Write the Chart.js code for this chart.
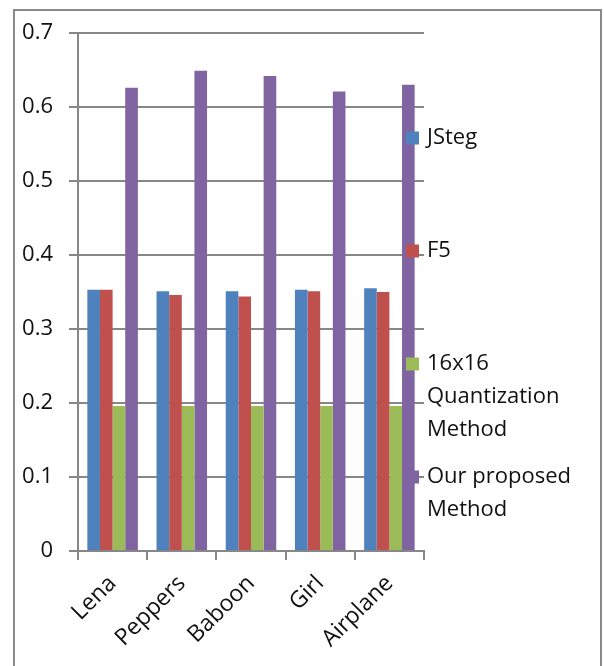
<!DOCTYPE html>
<html>
<head>
<meta charset="utf-8">
<script src="https://cdn.jsdelivr.net/npm/chart.js@4.4.1/dist/chart.umd.min.js"></script>
<style>
  html, body { margin: 0; padding: 0; background: #ffffff; overflow: hidden; }
  #wrap { position: relative; width: 604px; height: 666px; }
</style>
</head>
<body>
<div id="wrap"><canvas id="chart"></canvas></div>
<script>
// Test images and the score of each embedding method
const categories = ['Lena', 'Peppers', 'Baboon', 'Girl', 'Airplane'];
const seriesNames = ['JSteg', 'F5', '16x16 Quantization Method', 'Our proposed Method'];
const jstegValues = [0.353, 0.351, 0.351, 0.353, 0.355];
const f5Values = [0.353, 0.346, 0.344, 0.351, 0.350];
const quantValues = [0.196, 0.196, 0.196, 0.196, 0.196];
const proposedValues = [0.626, 0.649, 0.642, 0.621, 0.630];
const yTicks = [0, 0.1, 0.2, 0.3, 0.4, 0.5, 0.6, 0.7];

const colors = ['#4F81BD', '#C0504D', '#9BBB59', '#8064A2'];
const FONT = '"Open Sans", "DejaVu Sans", sans-serif';
const gridColor = '#878787';

// Outer frame around the whole figure
const framePlugin = {
  id: 'frame',
  afterDraw(chart) {
    const ctx = chart.ctx;
    ctx.save();
    ctx.strokeStyle = '#8a8a8a';
    ctx.lineWidth = 2;
    ctx.strokeRect(14, 10, 587, 680);
    ctx.restore();
  }
};

// Legend at the right, entries spread down the height of the plot
const sideLegend = {
  id: 'sideLegend',
  afterDraw(chart, args, opts) {
    const ctx = chart.ctx;
    ctx.save();
    ctx.font = opts.fontSize + 'px ' + FONT;
    ctx.textBaseline = 'middle';
    ctx.textAlign = 'left';
    chart.data.datasets.forEach((ds, i) => {
      const cy = opts.firstY + i * opts.step;
      ctx.fillStyle = ds.backgroundColor;
      ctx.fillRect(opts.boxX, cy - opts.box / 2, opts.box, opts.box);
      // simple word wrap into the legend column
      const words = ds.label.split(' ');
      const lines = [];
      let cur = '';
      words.forEach(w => {
        const t = cur ? cur + ' ' + w : w;
        if (cur && ctx.measureText(t).width > opts.maxWidth) {
          lines.push(cur);
          cur = w;
        } else {
          cur = t;
        }
      });
      if (cur) lines.push(cur);
      ctx.fillStyle = '#111111';
      lines.forEach((ln, k) => {
        ctx.fillText(ln, opts.textX, cy + k * opts.lineHeight);
      });
    });
    ctx.restore();
  }
};

const valueSets = [jstegValues, f5Values, quantValues, proposedValues];

new Chart(document.getElementById('chart'), {
  type: 'bar',
  data: {
    labels: categories,
    datasets: seriesNames.map((name, i) => ({
      label: name,
      data: valueSets[i],
      backgroundColor: colors[i],
      borderWidth: 0,
      categoryPercentage: 0.73,
      barPercentage: 1.0
    }))
  },
  options: {
    responsive: true,
    maintainAspectRatio: false,
    animation: false,
    devicePixelRatio: 1,
    layout: { padding: { top: 33, right: 180, bottom: 0, left: 0 } },
    plugins: {
      legend: { display: false },
      tooltip: { enabled: false },
      sideLegend: {
        fontSize: 22,
        firstY: 138,
        step: 113,
        box: 13,
        boxX: 406,
        textX: 427,
        lineHeight: 33,
        maxWidth: 165
      }
    },
    scales: {
      x: {
        afterFit(scale) { scale.height = 115; },
        grid: {
          offset: true,
          drawOnChartArea: false,
          drawTicks: true,
          tickLength: 9,
          color: gridColor,
          lineWidth: 2
        },
        border: { display: true, color: gridColor, width: 2 },
        ticks: {
          color: '#111111',
          font: { family: FONT, size: 23 },
          minRotation: 45,
          maxRotation: 45,
          padding: 10
        }
      },
      y: {
        min: 0,
        max: 0.7,
        afterFit(scale) { scale.width = 78; },
        afterBuildTicks(scale) {
          scale.ticks = yTicks.map(v => ({ value: v }));
        },
        grid: {
          color: gridColor,
          lineWidth: 2,
          drawTicks: true,
          tickLength: 9
        },
        border: { display: true, color: gridColor, width: 2 },
        ticks: {
          color: '#111111',
          font: { family: FONT, size: 22 },
          padding: 16,
          callback: v => String(Number(v.toFixed(1)))
        }
      }
    }
  },
  plugins: [framePlugin, sideLegend]
});
</script>
</body>
</html>
